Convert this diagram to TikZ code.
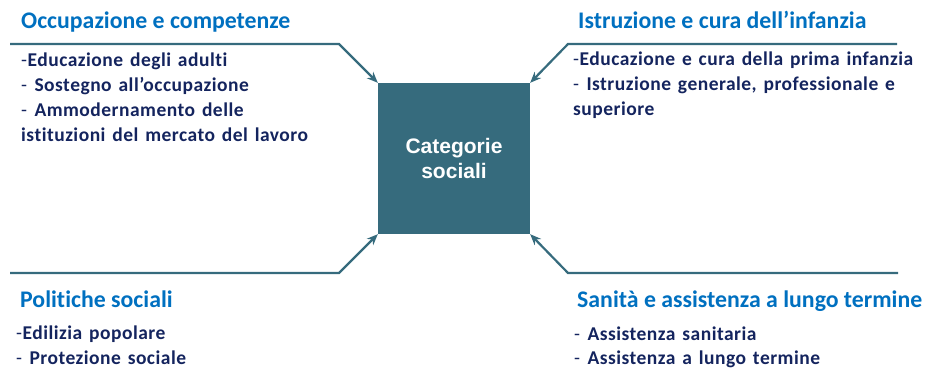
\documentclass[tikz,border=0pt]{standalone}
\usepackage{fontspec}
\setmainfont[Ligatures=NoCommon]{Carlito}
\newfontfamily\bodyfont[Ligatures=NoCommon,LetterSpace=2.5,WordSpace=1.4]{Carlito}
\newfontfamily\arialfont{Liberation Sans}
\usetikzlibrary{arrows.meta}
\definecolor{headblue}{HTML}{0070C0}
\definecolor{bodynavy}{HTML}{14245E}
\definecolor{boxteal}{HTML}{366B7D}
\tikzset{
  heading/.style={anchor=base west, inner sep=0pt, text=headblue, font=\fontsize{23.8}{28}\selectfont\bfseries},
  bodyline/.style={anchor=base west, inner sep=0pt, text=bodynavy, font=\bodyfont\fontsize{19.5}{25}\selectfont},
  conn/.style={draw=boxteal, line width=2.2pt, line join=miter, -{Stealth[length=11pt,width=9pt]}},
}
\newcommand{\bd}[1]{\textbf{#1}}
\begin{document}
\begin{tikzpicture}[x=1pt,y=-1pt]
\useasboundingbox (0,0) rectangle (927,368);
% central box
\node[fill=boxteal, minimum width=152pt, minimum height=151pt, inner sep=0pt,
      text=white, align=center, font=\arialfont\fontsize{21}{24.7}\selectfont\bfseries]
      (cs) at (454,158.5) {Categorie\\sociali};
% corner coordinates
\coordinate (tl0) at (10,44);  \coordinate (tl1) at (339,44);
\coordinate (tr0) at (897,44); \coordinate (tr1) at (568,44);
\coordinate (bl0) at (10,273); \coordinate (bl1) at (339,273);
\coordinate (br0) at (898,273);\coordinate (br1) at (568,273);
\draw[conn] (tl0) -- (tl1) -- (cs.north west);
\draw[conn] (tr0) -- (tr1) -- (cs.north east);
\draw[conn] (bl0) -- (bl1) -- (cs.south west);
\draw[conn] (br0) -- (br1) -- (cs.south east);
% top-left
\node[heading] (h1) at (21,28) {Occupazione e competenze};
\node[bodyline] (a1) at (21,66) {-\bd{Educazione degli adulti}};
\node[bodyline] (a2) at (21,91) {- \bd{Sostegno all’occupazione}};
\node[bodyline] (a3) at (21,116) {- \bd{Ammodernamento delle}};
\node[bodyline] (a4) at (21,141) {\bd{istituzioni del mercato del lavoro}};
% top-right
\node[heading] (h2) at (578,28) {Istruzione e cura dell’infanzia};
\node[bodyline] (b1) at (573,65) {-\bd{Educazione e cura della prima infanzia}};
\node[bodyline] (b2) at (573,90) {- \bd{Istruzione generale, professionale e}};
\node[bodyline] (b3) at (573,115) {\bd{superiore}};
% bottom-left
\node[heading] (h3) at (20,307) {Politiche sociali};
\node[bodyline] (c1) at (16,339) {-\bd{Edilizia popolare}};
\node[bodyline] (c2) at (16,364) {- \bd{Protezione sociale}};
% bottom-right
\node[heading] (h4) at (577,307) {Sanità e assistenza a lungo termine};
\node[bodyline] (d1) at (574,340) {- \bd{Assistenza sanitaria}};
\node[bodyline] (d2) at (574,364) {- \bd{Assistenza a lungo termine}};
\end{tikzpicture}
\end{document}
